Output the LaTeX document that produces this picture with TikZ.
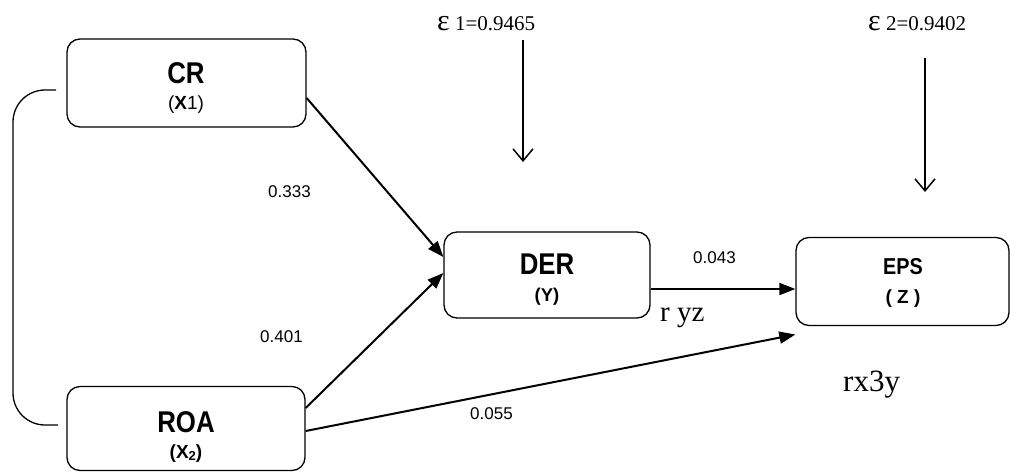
\documentclass[tikz,border=0pt]{standalone}
\usepackage{fontspec}
\setmainfont{Liberation Serif}
\newfontfamily\arial{Liberation Sans}
\newfontfamily\arialn[FakeStretch=0.86]{Liberation Sans}
\usetikzlibrary{arrows.meta}
\tikzset{
  box/.style={draw, line width=1.3pt, rounded corners=13pt, inner sep=0pt},
  conn/.style={line width=2pt, -{Triangle[length=16pt,width=12pt]}},
  errarrow/.style={line width=1.5pt, -{Straight Barb[length=12pt,width=20pt,line width=1.5pt]}},
  coef/.style={font=\arial\fontsize{17}{17}\selectfont, inner sep=0pt},
  title/.style={inner sep=0pt},
}
\begin{document}
\begin{tikzpicture}[x=1pt,y=-1pt]
\useasboundingbox (0,0) rectangle (1010,472);
% boxes
\node[box, minimum width=239pt, minimum height=88pt] (CR) at (186.5,83) {};
\node[box, minimum width=238pt, minimum height=84pt] (ROA) at (186,428.5) {};
\node[box, minimum width=206pt, minimum height=86pt] (DER) at (547,275) {};
\node[box, minimum width=213pt, minimum height=88pt] (EPS) at (902.5,281.5) {};
% box texts
\node[title, font=\arialn\bfseries\fontsize{30}{30}\selectfont] (crt) at (186,73) {CR};
\node[title, font=\arial\fontsize{19}{19}\selectfont] (crs) at (186,105) {(\textbf{X}1)};
\node[title, font=\arialn\bfseries\fontsize{30}{30}\selectfont] (roat) at (186,422) {ROA};
\node[title, font=\arial\bfseries\fontsize{19}{19}\selectfont] (roas) at (186,454) {(X\raisebox{-0.15ex}{\fontsize{13}{13}\selectfont 2})};
\node[title, font=\arialn\bfseries\fontsize{30}{30}\selectfont] (dert) at (547,264) {DER};
\node[title, font=\arial\bfseries\fontsize{18.5}{18.5}\selectfont] (ders) at (547,297) {(Y)};
\node[title, font=\arialn\bfseries\fontsize{23}{23}\selectfont] (epst) at (903,267) {EPS};
\node[title, font=\arial\bfseries\fontsize{19}{19}\selectfont] (epss) at (903,299) {( Z )};
% left correlation curve
\coordinate (c1) at (56,90);
\coordinate (c2) at (58,425);
\draw[line width=1.3pt, rounded corners=32pt] (c1) -- (13,90) -- (13,425) -- (c2);
% connectors
\draw[conn] ([yshift=-15pt]CR.east) -- ([yshift=18pt]DER.west);
\draw[conn] ([yshift=20.5pt]ROA.east) -- ([yshift=2pt]DER.west);
\draw[conn] ([yshift=-2.5pt]ROA.east) -- ([yshift=-53pt]EPS.west);
\draw[conn] ([yshift=-14pt]DER.east) -- ([yshift=-7.5pt]EPS.west);
% error terms
\node[anchor=base west, inner sep=0pt, font=\fontsize{21}{21}\selectfont] (e1) at (437,30) {{\fontsize{30}{30}\selectfont ε} 1=0.9465};
\node[anchor=base west, inner sep=0pt, font=\fontsize{21}{21}\selectfont] (e2) at (868,30) {{\fontsize{30}{30}\selectfont ε} 2=0.9402};
\coordinate (e1a) at (523,40);
\coordinate (e1b) at (523,162);
\coordinate (e2a) at (925,58);
\coordinate (e2b) at (925,192);
\draw[errarrow] (e1a) -- (e1b);
\draw[errarrow] (e2a) -- (e2b);
% coefficient labels
\node[coef, anchor=base west] (l1) at (268,197) {0.333};
\node[coef, anchor=base west] (l2) at (260,342) {0.401};
\node[coef, anchor=base west] (l3) at (693,263) {0.043};
\node[coef, anchor=base west] (l4) at (470,419) {0.055};
\node[anchor=base west, inner sep=0pt, font=\fontsize{29}{29}\selectfont] (l5) at (660,321) {r yz};
\node[anchor=base west, inner sep=0pt, font=\fontsize{31}{31}\selectfont] (l6) at (843,391) {rx3y};
\end{tikzpicture}
\end{document}
